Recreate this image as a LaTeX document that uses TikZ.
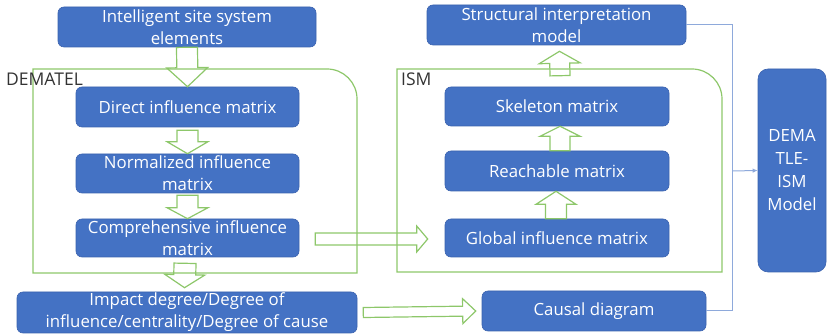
\documentclass[tikz,border=0pt]{standalone}
\usepackage{fontspec}
\setmainfont{Open Sans}
\usetikzlibrary{calc,arrows.meta}
\definecolor{boxblue}{HTML}{4472C4}
\definecolor{boxedge}{HTML}{3A62AE}
\definecolor{frgreen}{HTML}{8DC76A}
\definecolor{lnblue}{HTML}{8EA9DB}
\definecolor{lbl}{HTML}{333333}
\tikzset{
  box/.style={fill=boxblue, draw=boxedge, line width=0.6pt, rounded corners=6pt,
    text=white, align=center, inner sep=0pt, font=\fontsize{16.8}{22}\selectfont},
  frame/.style={draw=frgreen, line width=1.2pt},
  hollow/.style={draw=frgreen, line width=1.2pt, line join=miter},
  link/.style={draw=lnblue, line width=1pt},
  lab/.style={text=lbl, inner sep=0pt, anchor=west, font=\fontsize{17.5}{20}\selectfont},
}
% block arrow: tail, tip, shaft half width, head half width, head length
\newcommand\blockarw[5]{%
  \draw[hollow] let \p1=(#1), \p2=(#2), \n1={atan2(\y2-\y1,\x2-\x1)},
    \n2={veclen(\x2-\x1,\y2-\y1)} in
    [shift={(\p1)}, rotate=\n1]
    (0,-#3) -- ({\n2-#5},-#3) -- ({\n2-#5},-#4) -- (\n2,0)
    -- ({\n2-#5},#4) -- ({\n2-#5},#3) -- (0,#3) -- cycle;}
\begin{document}
\begin{tikzpicture}[x=1pt,y=-1pt]
\useasboundingbox (0,0) rectangle (827,336);

% frames
\draw[frame] (33,273) -- (33,69) -- (327,69) arc[start angle=90,end angle=0,radius=30pt] -- (357,273) -- cycle;
\draw[frame] (397,272) -- (397,69) -- (692,69) arc[start angle=90,end angle=0,radius=30pt] -- (722,272) -- cycle;
\node[lab] (dlab) at (6,79) {DEMATEL};
\node[lab] (ilab) at (401,79) {ISM};

% boxes
\node[box, minimum width=258pt, minimum height=40pt] (ise) at (187,27) {Intelligent site system\\elements};
\node[box, minimum width=223pt, minimum height=40pt] (dim) at (187.5,107) {Direct influence matrix};
\node[box, minimum width=223pt, minimum height=39pt] (nim) at (187.5,173.5) {Normalized influence\\matrix};
\node[box, minimum width=223pt, minimum height=38pt] (cim) at (187.5,238) {Comprehensive influence\\matrix};
\node[box, minimum width=340pt, minimum height=41pt] (imp) at (187,312.5) {Impact degree/Degree of\\influence/centrality/Degree of cause};
\node[box, minimum width=259pt, minimum height=40pt] (sim) at (556.5,25) {Structural interpretation\\model};
\node[box, minimum width=224pt, minimum height=39pt] (skm) at (557,106.5) {Skeleton matrix};
\node[box, minimum width=224pt, minimum height=40pt] (rm) at (557,171) {Reachable matrix};
\node[box, minimum width=224pt, minimum height=38pt] (gim) at (557,238) {Global influence matrix};
\node[box, minimum width=224pt, minimum height=40pt] (cd) at (594,311) {Causal diagram};
\node[box, minimum width=68pt, minimum height=203pt, rounded corners=10pt, font=\fontsize{16.8}{23}\selectfont] (dtm) at (792,170.5) {DEMA\\TLE-\\ISM\\Model};

% block arrows
\blockarw{ise.south}{dim.north}{10.5}{20.5}{19}
\blockarw{$(dim.south)+(0,3)$}{nim.north}{10.5}{20.5}{12}
\blockarw{$(nim.south)+(0,2)$}{cim.north}{10.5}{20.5}{11}
\blockarw{$(cim.south)+(-2.5,6)$}{$(imp.north)+(-2.5,-4)$}{11}{20}{13}
\blockarw{$(cim.east)+(16,1)$}{$(gim.west)+(-17,1)$}{6}{13}{11}
\blockarw{$(imp.east)+(6,0)$}{$(cd.west)+(-6,0)$}{5}{12.5}{13}
\blockarw{$(skm.north)+(3,-11)$}{$(sim.south)+(3,6)$}{10}{20.5}{12}
\blockarw{$(rm.north)+(3,0)$}{$(skm.south)+(3,0)$}{10}{20}{10}
\blockarw{$(gim.north)+(-1,0)$}{$(rm.south)+(-1,0)$}{10.5}{20}{13}

% blue connectors
\coordinate (jn) at (732,171);
\draw[link] (sim.east) -| (jn);
\draw[link] (cd.east) -| (jn);
\draw[link,-{Latex[length=5pt,width=4.5pt]}] (jn) -- (dtm.west);
\end{tikzpicture}
\end{document}
